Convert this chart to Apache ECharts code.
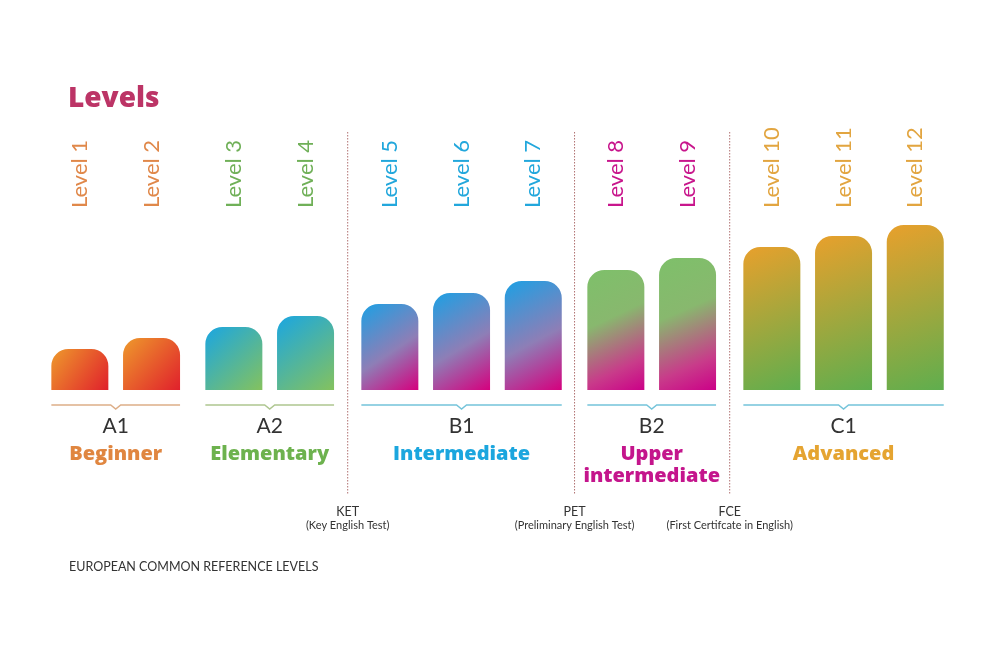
<!DOCTYPE html>
<html><head><meta charset="utf-8">
<script src="https://cdn.jsdelivr.net/npm/echarts@6/dist/echarts.min.js"></script>
<style>html,body{margin:0;padding:0;background:#fff}#c{width:1000px;height:650px}</style>
</head><body><div id="c"></div>
<script>
// ---- data ----
const levelLabels = ['Level 1','Level 2','Level 3','Level 4','Level 5','Level 6','Level 7','Level 8','Level 9','Level 10','Level 11','Level 12'];
const levelValues = [41, 52, 63, 74, 86, 97, 109, 120, 132, 143, 154, 165];
const groupCodes = ['A1','A2','B1','B2','C1'];
const groupNames = ['Beginner','Elementary','Intermediate','Upper\nintermediate','Advanced'];
const groupSizes = [2, 2, 3, 2, 3];
const examCodes = ['KET','PET','FCE'];
const examNames = ['(Key English Test)','(Preliminary English Test)','(First Certifcate in English)'];
const titleText = 'Levels';
const footText = 'EUROPEAN COMMON REFERENCE LEVELS';

// ---- styles ----
const labelColors = ['#E0884A','#70B058','#22A7DC','#C8168C','#E2A540'];
const nameColors = ['#E08640','#6DB24E','#1BA6DE','#C4158C','#E5A431'];
const bracketColors = ['#DDAE88','#AEC690','#74C4DA','#74C4DA','#74C4DA'];
const gradStops = [
  [[0,'#EE9A2C'],[1,'#E0202C']],
  [[0,'#1AA6E2'],[1,'#84C25E']],
  [[0,'#1CA0E4'],[0.55,'#8E7EB6'],[1,'#D6007E']],
  [[0,'#7EC06A'],[0.4,'#88B86E'],[0.78,'#C83C8A'],[1,'#CC0088']],
  [[0,'#E8A02C'],[1,'#5FAE4E']]
];
const gridLefts = [44, 198, 354, 580, 736];
const band = 71.7;
const barW = 57;
const FONT = 'Lato, "Open Sans", sans-serif';
const HEAVY = '"Open Sans", Lato, sans-serif';

const chart = echarts.init(document.getElementById('c'));
const grids = [], xAxes = [], yAxes = [], series = [];
let start = 0;
groupSizes.forEach((n, i) => {
  const cats = levelLabels.slice(start, start + n);
  const vals = levelValues.slice(start, start + n);
  start += n;
  grids.push({left: gridLefts[i], width: band * n, top: 210, height: 180});
  xAxes.push({
    gridIndex: i, type: 'category', data: cats, position: 'top',
    axisLine: {show: false}, axisTick: {show: false},
    axisLabel: {interval: 0, rotate: 90, margin: 2, fontSize: 22, fontWeight: 'normal',
      fontFamily: FONT, color: labelColors[i]}
  });
  const nm = groupNames[i].split('\n').map(s => '{nm|' + s + '}').join('\n');
  xAxes.push({
    gridIndex: i, type: 'category', data: cats, position: 'bottom',
    axisLine: {show: false}, axisTick: {show: false}, axisLabel: {show: false},
    name: '{code|' + groupCodes[i] + '}\n' + nm,
    nameLocation: 'middle', nameGap: 20,
    nameTextStyle: {
      rich: {
        code: {fontSize: 21, color: '#333', fontFamily: FONT, lineHeight: 33, align: 'center'},
        nm: {fontSize: 20, fontWeight: 800, color: nameColors[i], fontFamily: HEAVY, lineHeight: 22, align: 'center'}
      }
    }
  });
  yAxes.push({gridIndex: i, type: 'value', min: 0, max: 180, show: false});
  series.push({
    type: 'bar', xAxisIndex: i * 2, yAxisIndex: i, data: vals, barWidth: barW,
    itemStyle: {
      borderRadius: [17, 17, 0, 0],
      color: {type: 'linear', x: 0, y: 0, x2: 1, y2: 1, colorStops: gradStops[i].map(s => ({offset: s[0], color: s[1]}))}
    },
    emphasis: {disabled: true}
  });
});

chart.setOption({
  animation: false,
  backgroundColor: '#fff',
  title: [
    {text: titleText, left: 63, top: 80, textStyle: {fontSize: 28, fontWeight: 800, color: '#BC3466', fontFamily: HEAVY}},
    {text: footText, left: 64, top: 555, textStyle: {fontSize: 12.5, fontWeight: 'normal', color: '#333', fontFamily: FONT}}
  ],
  grid: grids, xAxis: xAxes, yAxis: yAxes, series: series
});

// decorations derived from the library's scales
const graphics = [];
const firsts = [], lasts = [];
groupSizes.forEach((n, i) => {
  const f = chart.convertToPixel({seriesIndex: i}, [0, 0]);
  const l = chart.convertToPixel({seriesIndex: i}, [n - 1, 0]);
  firsts.push(f); lasts.push(l);
  const left = f[0] - barW / 2, right = l[0] + barW / 2, mid = (left + right) / 2, y = f[1] + 15;
  graphics.push({type: 'polyline', silent: true,
    shape: {points: [[left, y], [mid - 5, y], [mid, y + 4], [mid + 5, y], [right, y]]},
    style: {stroke: bracketColors[i], lineWidth: 1.5, fill: null}});
});
examCodes.forEach((code, k) => {
  const gi = k + 1;
  const x = (lasts[gi][0] + firsts[gi + 1][0]) / 2;
  graphics.push({type: 'line', silent: true, shape: {x1: x, y1: 132, x2: x, y2: 494},
    style: {stroke: '#B07070', lineWidth: 1, lineDash: [1.5, 1.5]}});
  graphics.push({type: 'text', silent: true, x: x, y: 505,
    style: {text: code, fontSize: 12.5, fill: '#333', align: 'center', fontFamily: FONT}});
  graphics.push({type: 'text', silent: true, x: x, y: 520,
    style: {text: examNames[k], fontSize: 11, fill: '#333', align: 'center', fontFamily: FONT}});
});
chart.setOption({graphic: graphics});
</script></body></html>
